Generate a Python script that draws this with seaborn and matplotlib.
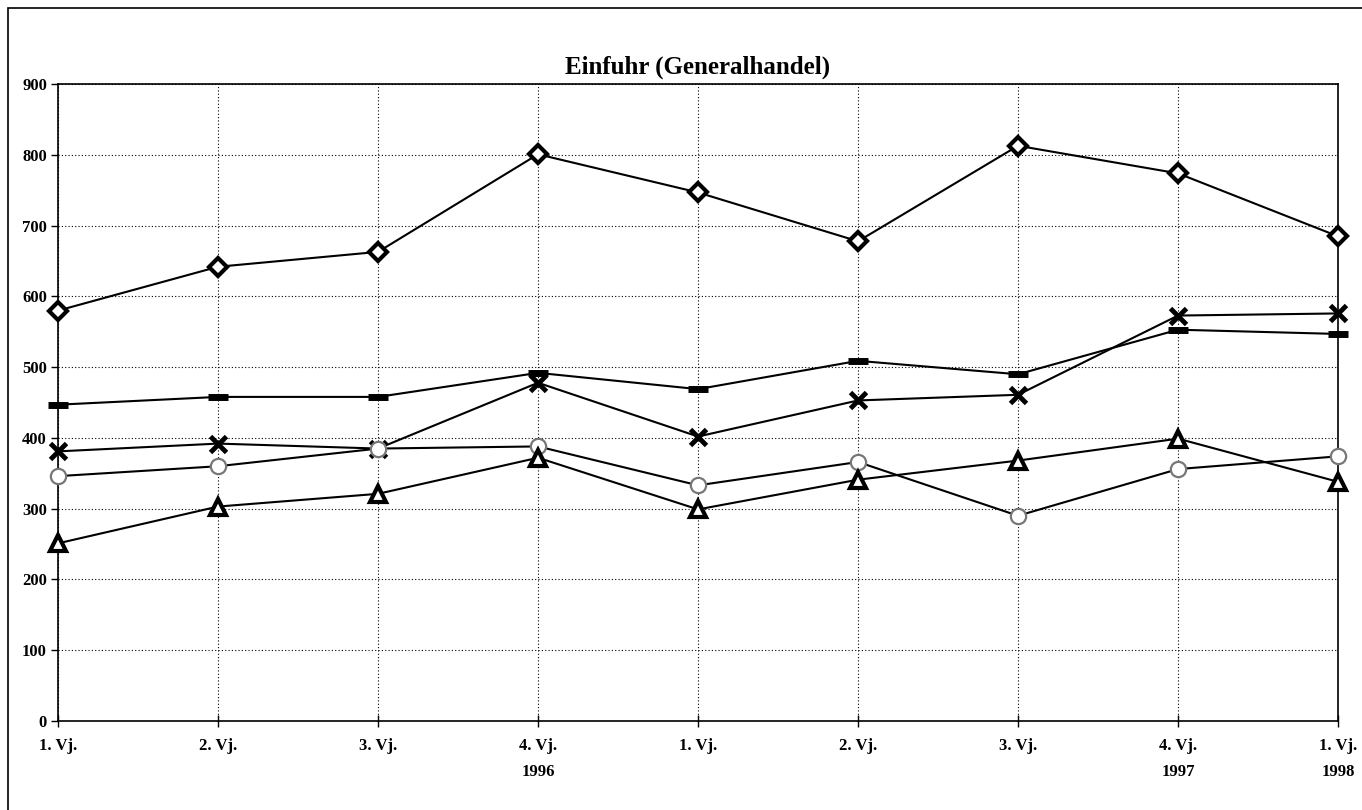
import matplotlib
matplotlib.use("Agg")
import matplotlib.pyplot as plt
import seaborn as sns
import pandas as pd
from matplotlib.patches import Rectangle

# Quartale (x-Achse)
quarters = ["1. Vj.", "2. Vj.", "3. Vj.", "4. Vj.\n1996", "1. Vj.",
            "2. Vj.", "3. Vj.", "4. Vj.\n1997", "1. Vj.\n1998"]

# Werte je Reihe
series_diamond = [580, 642, 663, 801, 747, 678, 813, 774, 685]
series_dash = [447, 458, 458, 492, 469, 509, 490, 553, 547]
series_cross = [381, 392, 385, 478, 402, 453, 461, 573, 576]
series_circle = [346, 360, 385, 388, 333, 366, 290, 356, 374]
series_triangle = [251, 303, 321, 372, 299, 341, 368, 399, 338]

sns.set_theme(style="white")
plt.rcParams["font.family"] = ["Liberation Serif", "DejaVu Serif"]
plt.rcParams["font.weight"] = "bold"
plt.rcParams["text.color"] = "black"
plt.rcParams["xtick.color"] = "black"
plt.rcParams["ytick.color"] = "black"

fig = plt.figure(figsize=(13.62, 8.1), dpi=100)
ax = fig.add_axes([0.0426, 0.110, 0.9398, 0.786])

# Rahmen um die ganze Grafik
fig.patches.append(Rectangle((0.006, -0.01), 1.01, 1.0, transform=fig.transFigure,
                             fill=False, edgecolor="black", linewidth=1.2))

pos = list(range(len(quarters)))
styles = [
    (series_diamond, dict(marker="D", markersize=9, markerfacecolor="white",
                          markeredgecolor="black", markeredgewidth=3)),
    (series_dash, dict(marker="_", markersize=14, markeredgecolor="black",
                       markeredgewidth=5)),
    (series_cross, dict(marker="x", markersize=12, markeredgecolor="black",
                        markeredgewidth=3.5)),
    (series_circle, dict(marker="o", markersize=11, markerfacecolor="white",
                         markeredgecolor="#777777", markeredgewidth=1.6)),
    (series_triangle, dict(marker="^", markersize=11, markerfacecolor="white",
                           markeredgecolor="black", markeredgewidth=3)),
]
for vals, kw in styles:
    df = pd.DataFrame({"x": pos, "y": vals})
    sns.lineplot(data=df, x="x", y="y", ax=ax, color="black", linewidth=1.5,
                 clip_on=False, zorder=3, **kw)

ax.set_xlim(0, len(quarters) - 1)
ax.set_ylim(0, 900)
ax.set_yticks(range(0, 901, 100))
ax.set_xticks(pos)
ax.set_xticklabels(quarters, fontsize=12, fontweight="bold", linespacing=1.9)
for lbl in ax.get_yticklabels():
    lbl.set_fontsize(12)
    lbl.set_fontweight("bold")
ax.set_xlabel("")
ax.set_ylabel("")

ax.grid(True, color="black", linestyle=(0, (1, 2)), linewidth=0.8)
ax.tick_params(axis="y", direction="out", length=5, width=1, pad=3, left=True)
ax.tick_params(axis="x", direction="inout", length=8, width=1, pad=8, bottom=True)
for sp in ax.spines.values():
    sp.set_color("black")
    sp.set_linewidth(1.2)

ax.set_title("Einfuhr (Generalhandel)", fontsize=18, fontweight="bold",
             color="black", pad=8)

fig.savefig("out.png", dpi=100)
